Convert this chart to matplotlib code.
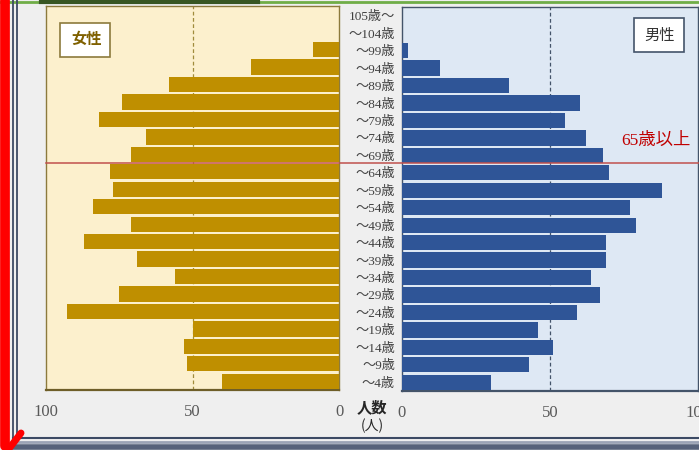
import matplotlib
matplotlib.use("Agg")
import matplotlib.pyplot as plt
from matplotlib.lines import Line2D
from matplotlib.patches import Rectangle
from matplotlib.transforms import blended_transform_factory

# ---- data (bottom row first) ----
age_labels = ["～4歳", "～9歳", "～14歳", "～19歳", "～24歳", "～29歳", "～34歳",
              "～39歳", "～44歳", "～49歳", "～54歳", "～59歳", "～64歳", "～69歳",
              "～74歳", "～79歳", "～84歳", "～89歳", "～94歳", "～99歳",
              "～104歳", "105歳～"]
female = [40, 52, 53, 50, 93, 75, 56, 69, 87, 71, 84, 77, 78, 71,
          66, 82, 74, 58, 30, 9, 0, 0]
male = [30, 43, 51, 46, 59, 67, 64, 69, 69, 79, 77, 88, 70, 68,
        62, 55, 60, 36, 13, 2, 0, 0]
x_ticks = [0, 50, 100]
x_ticklabels = ["0", "50", "100"]
threshold_row = 12.5
threshold_label = "65歳以上"

W, H = 699, 450
fig = plt.figure(figsize=(W / 100, H / 100), dpi=100)
fig.patch.set_facecolor("#EFEFEF")


def fx(x):
    return x / W


def fy(y):
    return 1 - y / H


def rect(x0, y0, x1, y1):
    return [fx(x0), fy(y1), fx(x1) - fx(x0), fy(y0) - fy(y1)]


serif_cjk = ["Liberation Serif", "Noto Sans CJK JP", "DejaVu Sans"]
cjk = ["Noto Sans CJK JP", "DejaVu Sans"]

n = len(age_labels)
ypos = list(range(n))

# ---- female panel ----
axL = fig.add_axes(rect(46, 6, 339, 390))
axL.set_facecolor("#FCF0CD")
axL.barh(ypos, female, height=0.88, color="#BF8F00", linewidth=0, zorder=3)
axL.set_xlim(100, 0)
axL.set_ylim(-0.5, n - 0.5)
axL.axvline(50, color="#A08C3C", linestyle=(0, (3, 2)), linewidth=0.9, zorder=1)
axL.set_yticks([])
axL.set_xticks(x_ticks)
axL.set_xticklabels(x_ticklabels, family=serif_cjk, fontsize=12, color="#595959")
axL.tick_params(axis="x", length=0, pad=10)
for s in axL.spines.values():
    s.set_color("#8C7A3C")
    s.set_linewidth(1.0)
axL.spines["bottom"].set_linewidth(1.6)
axL.spines["bottom"].set_color("#6E5E28")

# ---- male panel ----
axR = fig.add_axes(rect(402, 7, 698, 391))
axR.set_facecolor("#DEE8F4")
axR.barh(ypos, male, height=0.88, color="#2F5597", linewidth=0, zorder=3)
axR.set_xlim(0, 100)
axR.set_ylim(-0.5, n - 0.5)
axR.axvline(50, color="#44546A", linestyle=(0, (3, 2)), linewidth=0.9, zorder=1)
axR.set_yticks(ypos)
axR.set_yticklabels(age_labels, family=serif_cjk, fontsize=9.5, color="#404040")
axR.tick_params(axis="y", length=0, pad=5)
axR.set_xticks(x_ticks)
axR.set_xticklabels(x_ticklabels, family=serif_cjk, fontsize=12, color="#595959")
axR.tick_params(axis="x", length=0, pad=10)
for s in axR.spines.values():
    s.set_color("#44546A")
    s.set_linewidth(1.0)
axR.spines["bottom"].set_linewidth(1.6)

# ---- 65+ threshold line across both panels ----
tr = blended_transform_factory(fig.transFigure, axL.transData)
fig.add_artist(Line2D([fx(46), 1.0], [threshold_row, threshold_row],
                      transform=tr, color="#C0504D", linewidth=1.1, zorder=10))
fig.text(fx(656), fy(141), threshold_label, family=serif_cjk, fontsize=12.5,
         color="#C00000", ha="center", va="center")

# ---- legend boxes ----
fig.add_artist(Rectangle((fx(60), fy(57)), fx(110) - fx(60), fy(23) - fy(57),
                         transform=fig.transFigure, facecolor="white",
                         edgecolor="#8C7A3C", linewidth=1.2, zorder=10))
fig.text(fx(87), fy(39), "女性", family=cjk, fontsize=11, fontweight="bold",
         color="#7F6000", ha="center", va="center", zorder=11)
fig.add_artist(Rectangle((fx(634), fy(52)), fx(684) - fx(634), fy(18) - fy(52),
                         transform=fig.transFigure, facecolor="white",
                         edgecolor="#44546A", linewidth=1.2, zorder=10))
fig.text(fx(660), fy(35), "男性", family=cjk, fontsize=11,
         color="#333333", ha="center", va="center", zorder=11)

# ---- axis unit label ----
fig.text(fx(372), fy(407), "人数", family=cjk, fontsize=11, fontweight="bold",
         color="#262626", ha="center", va="center")
fig.text(fx(372), fy(426), "(人)", family=cjk, fontsize=10,
         color="#262626", ha="center", va="center")

# ---- window decorations ----
fig.add_artist(Line2D([fx(0), 1.0], [fy(1.5), fy(1.5)], color="#70AD47",
                      linewidth=2.0, transform=fig.transFigure))
fig.add_artist(Line2D([fx(41), fx(258)], [fy(1.5), fy(1.5)], color="#375623",
                      linewidth=3.0, transform=fig.transFigure))
for xv in (13, 17):
    fig.add_artist(Line2D([fx(xv), fx(xv)], [fy(0), fy(441)], color="#3C4A64",
                          linewidth=1.3, transform=fig.transFigure))
for yv, c, lw in ((438, "#3C4A64", 1.5), (442, "#9AA3B5", 2.0), (447, "#56627A", 4.0)):
    fig.add_artist(Line2D([fx(13), 1.0], [fy(yv), fy(yv)], color=c,
                          linewidth=lw, transform=fig.transFigure))
fig.add_artist(Line2D([fx(5), fx(5)], [fy(-5), fy(446)], color="#FF0000",
                      linewidth=7.0, solid_capstyle="round",
                      transform=fig.transFigure))
fig.add_artist(Line2D([fx(21), fx(8)], [fy(433), fy(450)], color="#FF0000",
                      linewidth=5.0, solid_capstyle="round",
                      transform=fig.transFigure))

fig.savefig("out.png", dpi=100, facecolor=fig.get_facecolor())
